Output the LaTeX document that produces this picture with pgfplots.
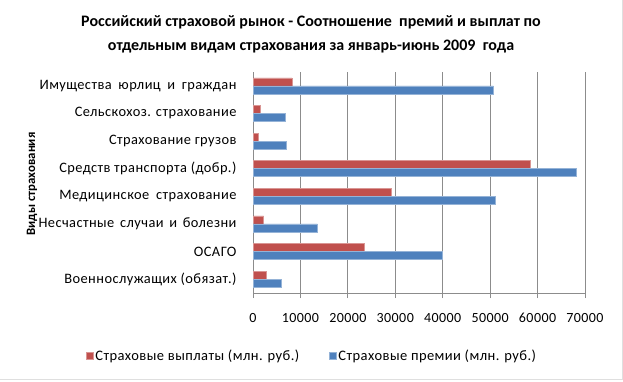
\documentclass[border=0pt]{standalone}
\usepackage{pgfplots}
\pgfplotsset{compat=1.18}
\usepackage{fontspec}
\setmainfont{Carlito}
\newfontfamily\legfont[LetterSpace=3]{Carlito}
\newcommand\xs[1]{\hspace*{#1pt}}
\definecolor{cred}{HTML}{C0504D}
\definecolor{cblue}{HTML}{4F81BD}
\definecolor{cred2}{HTML}{D99694}
\definecolor{cblue2}{HTML}{95B3D7}
\definecolor{gridc}{HTML}{8C8C8C}
\begin{document}
\begin{tikzpicture}[x=1pt,y=1pt]
\useasboundingbox (0,0) rectangle (623,381);
\draw[gray!25,line width=1pt] (622,381) -- (622,2) -- (0,2);
\begin{axis}[
  at={(253pt,88pt)}, anchor=south west,
  scale only axis, width=332pt, height=221pt,
  xbar, bar width=8pt,
  xmin=0, xmax=70000,
  ymin=-0.5, ymax=7.5,
  axis x line*=bottom, axis y line*=left,
  axis line style={gridc, line width=0.8pt, -},
  xtick={0,10000,...,70000},
  scaled x ticks=false,
  /pgf/number format/assume math mode=true,
  /pgf/number format/1000 sep={},
  xmajorgrids, major grid style={gridc, line width=0.8pt},
  x tick style={gridc, line width=0.8pt},
  xtick align=outside, ytick align=outside,
  major tick length=5pt,
  ytick={0,...,7},
  yticklabels={Военнослужащих (обязат.),ОСАГО,Несчастные \xs{2}случаи \xs{2}и \xs{2}болезни,Медицинское \xs{3}страхование,Средств транспорта (добр.),Страхование грузов,Сельскохоз. страхование,Имущества \xs{3}юрлиц \xs{3}и \xs{3}граждан},
  y tick style={draw=none},
  minor ytick={-0.5,0.5,...,7.5},
  minor y tick style={gridc, line width=0.8pt},
  minor tick length=6pt,
  yticklabel style={font=\legfont\fontsize{14.4}{16}\selectfont, xshift=-8pt},
  xticklabel style={font=\legfont\fontsize{14}{16}\selectfont, yshift=-12pt},
  legend style={at={(rel axis cs:0.178,-0.285)}, anchor=center, draw=none, legend columns=2,
    font=\legfont\fontsize{14.5}{16}\selectfont,
    /tikz/every even column/.append style={column sep=28pt}},
  legend image code/.code={\fill[#1] (0pt,-3.3pt) rectangle (6.6pt,3.3pt);},
]
\addplot[fill=cred, draw=cred2, line width=0.6pt, bar shift=4pt] coordinates {
  (2740,0) (23570,1) (2250,2) (29060,3) (58480,4) (1050,5) (1550,6) (8200,7)};
\addlegendentry{Страховые выплаты (млн. руб.)}
\addplot[fill=cblue, draw=cblue2, line width=0.6pt, bar shift=-4pt] coordinates {
  (6050,0) (39830,1) (13580,2) (51090,3) (68190,4) (6970,5) (6760,6) (50700,7)};
\addlegendentry{Страховые премии (млн. руб.)}
\end{axis}
\node[font=\bfseries\fontsize{16}{24}\selectfont, align=center] at (311,347)
  {Российский страховой рынок - Соотношение \ премий и выплат по\\отдельным видам страхования за январь-июнь 2009 \ года};
\node[font=\bfseries\fontsize{12.8}{15}\selectfont, rotate=90] at (32,197) {Виды страхования};
\end{tikzpicture}
\end{document}
